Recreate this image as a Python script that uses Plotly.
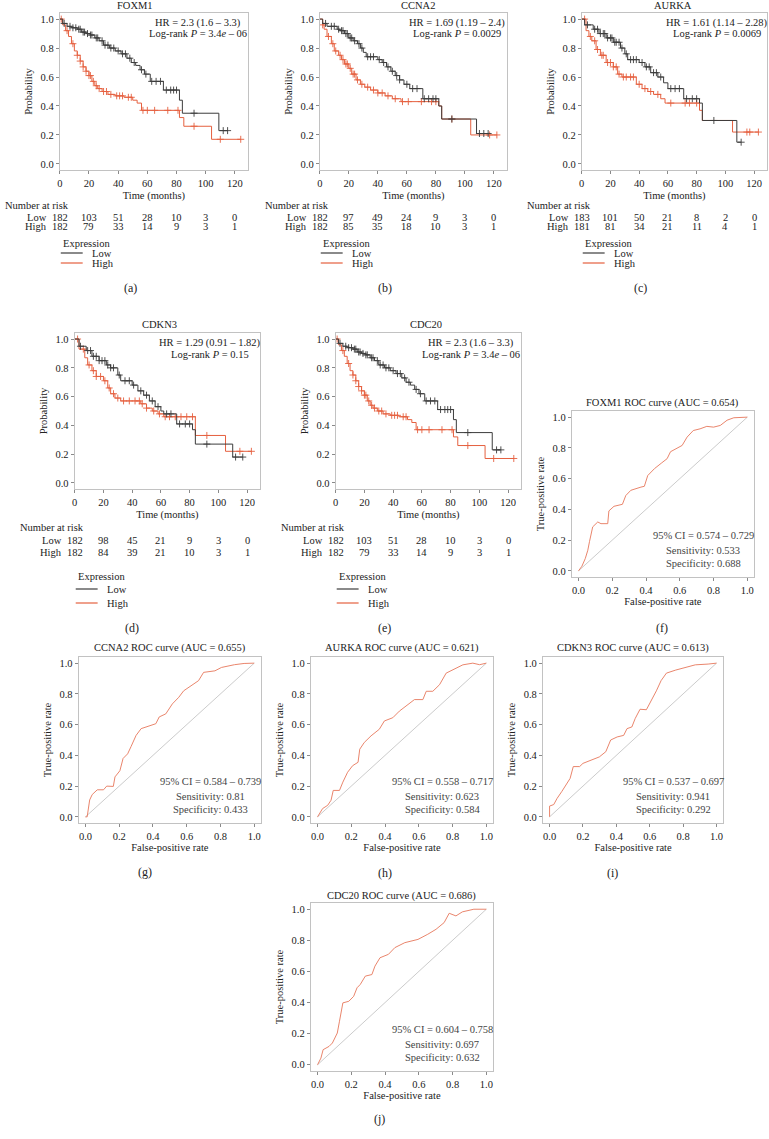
import plotly.graph_objects as go

W, H = 769, 1139
FONT = "Liberation Serif"
BLACK = "#3c3c3c"
RED = "#e5603f"
ROC_RED = "#e7775b"
FRAME = "#c2c2c2"
TXT = "#222222"
FS = 10.5

# ---------------- data: Kaplan-Meier ----------------
KM_TICKS = [0, 20, 40, 60, 80, 100, 120]

foxm1_low_t = [0, 2, 5, 8, 12, 15, 18, 21, 24, 27, 30, 34, 38, 42, 46, 49, 52, 55, 58, 62, 71, 82, 84, 109, 115]
foxm1_low_s = [1.0, 0.97, 0.95, 0.94, 0.93, 0.91, 0.90, 0.89, 0.87, 0.85, 0.82, 0.80, 0.78, 0.76, 0.73, 0.70, 0.68, 0.65, 0.62, 0.57, 0.51, 0.44, 0.35, 0.23, 0.23]
foxm1_low_c = [3, 7, 9, 11, 13, 14, 16, 17, 19, 21, 22, 25, 26, 29, 31, 33, 35, 37, 40, 43, 45, 48, 51, 56, 59, 63, 66, 69, 73, 76, 78, 80, 92, 112, 115]
foxm1_high_t = [0, 2, 4, 6, 8, 10, 12, 14, 16, 18, 20, 22, 24, 26, 29, 33, 38, 44, 50, 53, 56, 82, 85, 104, 124]
foxm1_high_s = [1.0, 0.96, 0.92, 0.88, 0.83, 0.78, 0.75, 0.71, 0.67, 0.64, 0.61, 0.57, 0.54, 0.52, 0.50, 0.48, 0.47, 0.46, 0.44, 0.42, 0.37, 0.32, 0.26, 0.17, 0.17]
foxm1_high_c = [1, 5, 9, 12, 14, 16, 18, 20, 21, 23, 25, 27, 30, 32, 35, 39, 41, 43, 47, 49, 57, 60, 65, 74, 81, 92, 110, 124]

ccna2_low_t = [0, 2, 5, 12, 14, 17, 20, 23, 26, 28, 30, 32, 40, 43, 46, 49, 52, 55, 58, 62, 71, 82, 84, 108, 116]
ccna2_low_s = [1.0, 0.97, 0.95, 0.93, 0.92, 0.90, 0.87, 0.85, 0.83, 0.80, 0.77, 0.74, 0.72, 0.70, 0.67, 0.64, 0.61, 0.58, 0.55, 0.52, 0.45, 0.40, 0.31, 0.21, 0.21]
ccna2_low_c = [4, 8, 10, 13, 15, 16, 18, 19, 21, 22, 24, 27, 29, 33, 35, 37, 41, 44, 47, 50, 53, 55, 60, 64, 67, 72, 75, 78, 80, 91, 110, 113, 116]
ccna2_high_t = [0, 2, 3, 5, 8, 10, 13, 15, 17, 20, 22, 25, 28, 31, 35, 40, 45, 50, 56, 82, 84, 104, 122]
ccna2_high_s = [1.0, 0.96, 0.93, 0.88, 0.83, 0.78, 0.75, 0.72, 0.69, 0.66, 0.62, 0.58, 0.55, 0.53, 0.51, 0.49, 0.47, 0.45, 0.43, 0.40, 0.31, 0.20, 0.20]
ccna2_high_c = [2, 6, 9, 11, 14, 16, 18, 19, 21, 23, 24, 26, 29, 33, 37, 40, 43, 47, 52, 57, 61, 70, 77, 80, 91, 117, 122]

aurka_low_t = [0, 2, 8, 12, 17, 22, 27, 30, 32, 40, 44, 48, 53, 57, 60, 71, 82, 84, 108, 111]
aurka_low_s = [1.0, 0.96, 0.93, 0.90, 0.87, 0.84, 0.80, 0.76, 0.72, 0.70, 0.67, 0.63, 0.60, 0.56, 0.52, 0.45, 0.42, 0.30, 0.15, 0.15]
aurka_low_c = [4, 9, 11, 13, 15, 16, 18, 20, 21, 23, 24, 26, 28, 31, 34, 36, 38, 42, 45, 47, 50, 52, 55, 62, 65, 68, 73, 77, 80, 92, 111]
aurka_high_t = [0, 3, 5, 7, 10, 13, 17, 22, 25, 28, 38, 42, 46, 50, 55, 58, 82, 84, 105, 123]
aurka_high_s = [1.0, 0.92, 0.88, 0.85, 0.79, 0.75, 0.70, 0.67, 0.62, 0.60, 0.55, 0.52, 0.50, 0.48, 0.45, 0.42, 0.37, 0.30, 0.22, 0.22]
aurka_high_c = [2, 6, 9, 11, 14, 15, 18, 20, 22, 24, 26, 29, 31, 34, 36, 40, 44, 48, 53, 62, 72, 75, 80, 115, 117, 123]

cdkn3_low_t = [0, 3, 8, 12, 17, 22, 25, 30, 32, 40, 44, 48, 52, 56, 60, 62, 71, 82, 84, 110, 117]
cdkn3_low_s = [1.0, 0.95, 0.92, 0.88, 0.85, 0.82, 0.80, 0.75, 0.71, 0.68, 0.64, 0.61, 0.57, 0.53, 0.50, 0.48, 0.41, 0.37, 0.27, 0.18, 0.18]
cdkn3_low_c = [4, 9, 11, 13, 15, 17, 19, 21, 23, 25, 27, 31, 35, 38, 41, 46, 50, 54, 58, 64, 67, 73, 77, 80, 92, 112, 117]
cdkn3_high_t = [0, 3, 7, 9, 12, 15, 20, 23, 25, 28, 32, 46, 50, 54, 58, 62, 84, 105, 123]
cdkn3_high_s = [1.0, 0.93, 0.87, 0.82, 0.78, 0.74, 0.71, 0.66, 0.62, 0.59, 0.57, 0.55, 0.52, 0.50, 0.48, 0.46, 0.33, 0.22, 0.22]
cdkn3_high_c = [2, 6, 10, 13, 15, 18, 21, 24, 27, 30, 34, 38, 42, 45, 47, 50, 55, 59, 63, 66, 70, 74, 78, 82, 92, 115, 123]

# CDC20 curves are identical to FOXM1 in the source figure
cdc20_low_t, cdc20_low_s, cdc20_low_c = foxm1_low_t, foxm1_low_s, foxm1_low_c
cdc20_high_t, cdc20_high_s, cdc20_high_c = foxm1_high_t, foxm1_high_s, foxm1_high_c

risk_foxm1_low = [182, 103, 51, 28, 10, 3, 0]
risk_foxm1_high = [182, 79, 33, 14, 9, 3, 1]
risk_ccna2_low = [182, 97, 49, 24, 9, 3, 0]
risk_ccna2_high = [182, 85, 35, 18, 10, 3, 1]
risk_aurka_low = [183, 101, 50, 21, 8, 2, 0]
risk_aurka_high = [181, 81, 34, 21, 11, 4, 1]
risk_cdkn3_low = [182, 98, 45, 21, 9, 3, 0]
risk_cdkn3_high = [182, 84, 39, 21, 10, 3, 1]
risk_cdc20_low = [182, 103, 51, 28, 10, 3, 0]
risk_cdc20_high = [182, 79, 33, 14, 9, 3, 1]

hr_texts = ["HR = 2.3 (1.6 – 3.3)", "HR = 1.69 (1.19 – 2.4)", "HR = 1.61 (1.14 – 2.28)",
            "HR = 1.29 (0.91 – 1.82)", "HR = 2.3 (1.6 – 3.3)"]
p_texts = ["3.4<i>e</i> – 06", "0.0029", "0.0069", "0.15", "3.4<i>e</i> – 06"]

# ---------------- data: ROC ----------------
ROC_TICKS = [0.0, 0.2, 0.4, 0.6, 0.8, 1.0]

foxm1_fpr = [0, 0.02, 0.04, 0.055, 0.065, 0.084, 0.114, 0.133, 0.173, 0.18, 0.21, 0.26, 0.28, 0.31, 0.37, 0.39, 0.41, 0.45, 0.49, 0.525, 0.545, 0.585, 0.614, 0.643, 0.68, 0.72, 0.76, 0.80, 0.84, 0.88, 0.92, 1.0]
foxm1_tpr = [0, 0.03, 0.08, 0.134, 0.19, 0.286, 0.318, 0.307, 0.307, 0.39, 0.42, 0.433, 0.49, 0.524, 0.545, 0.55, 0.62, 0.665, 0.70, 0.73, 0.775, 0.80, 0.816, 0.87, 0.913, 0.924, 0.94, 0.935, 0.946, 0.98, 0.996, 1.0]

ccna2_fpr = [0, 0.01, 0.025, 0.04, 0.07, 0.107, 0.126, 0.165, 0.175, 0.204, 0.223, 0.25, 0.27, 0.30, 0.33, 0.38, 0.417, 0.437, 0.476, 0.515, 0.553, 0.582, 0.63, 0.67, 0.70, 0.767, 0.806, 0.883, 0.94, 1.0]
ccna2_tpr = [0, 0.0, 0.11, 0.145, 0.176, 0.176, 0.20, 0.198, 0.26, 0.30, 0.38, 0.41, 0.457, 0.53, 0.574, 0.59, 0.606, 0.65, 0.67, 0.735, 0.778, 0.82, 0.854, 0.886, 0.94, 0.95, 0.972, 0.99, 0.998, 1.0]

aurka_fpr = [0, 0.03, 0.06, 0.08, 0.093, 0.13, 0.15, 0.178, 0.208, 0.24, 0.25, 0.277, 0.317, 0.366, 0.396, 0.446, 0.485, 0.535, 0.574, 0.624, 0.644, 0.683, 0.723, 0.762, 0.802, 0.861, 0.92, 0.96, 1.0]
aurka_tpr = [0, 0.054, 0.075, 0.108, 0.172, 0.172, 0.226, 0.29, 0.333, 0.355, 0.44, 0.484, 0.527, 0.57, 0.624, 0.645, 0.688, 0.731, 0.763, 0.763, 0.817, 0.817, 0.86, 0.935, 0.957, 0.989, 1.0, 0.99, 1.0]

cdkn3_fpr = [0, 0.0, 0.025, 0.045, 0.074, 0.103, 0.123, 0.142, 0.18, 0.20, 0.25, 0.298, 0.337, 0.366, 0.405, 0.444, 0.464, 0.493, 0.513, 0.542, 0.58, 0.61, 0.64, 0.668, 0.70, 0.756, 0.815, 0.873, 0.95, 1.0]
cdkn3_tpr = [0, 0.07, 0.08, 0.12, 0.166, 0.22, 0.25, 0.327, 0.327, 0.348, 0.37, 0.39, 0.424, 0.50, 0.52, 0.53, 0.574, 0.585, 0.64, 0.70, 0.697, 0.757, 0.82, 0.886, 0.935, 0.955, 0.972, 0.989, 0.994, 1.0]

cdc20_fpr = [0, 0.02, 0.033, 0.068, 0.088, 0.117, 0.13, 0.15, 0.185, 0.214, 0.234, 0.253, 0.283, 0.322, 0.34, 0.37, 0.42, 0.458, 0.517, 0.595, 0.653, 0.702, 0.75, 0.78, 0.82, 0.858, 0.926, 0.985, 1.0]
cdc20_tpr = [0, 0.043, 0.097, 0.118, 0.14, 0.204, 0.28, 0.398, 0.408, 0.44, 0.495, 0.516, 0.57, 0.58, 0.634, 0.688, 0.71, 0.753, 0.785, 0.806, 0.839, 0.871, 0.914, 0.974, 0.957, 0.983, 1.0, 1.0, 1.0]

roc_names = ["FOXM1", "CCNA2", "AURKA", "CDKN3", "CDC20"]
roc_auc = ["0.654", "0.655", "0.621", "0.613", "0.686"]
roc_ci = ["0.574 – 0.729", "0.584 – 0.739", "0.558 – 0.717", "0.537 – 0.697", "0.604 – 0.758"]
roc_sens = ["0.533", "0.81", "0.623", "0.941", "0.697"]
roc_spec = ["0.688", "0.433", "0.584", "0.292", "0.632"]

# ---------------- layout geometry (pixels) ----------------
fig = go.Figure()
annotations = []
shapes = []
axes = {}


def py(y):
    return 1 - y / H


def text(t, x, y, size=FS, xanchor="center", xref="paper", angle=0):
    annotations.append(dict(
        text=t, x=(x / W if xref == "paper" else x), y=py(y), xref=xref, yref="paper",
        xanchor=xanchor, yanchor="middle", showarrow=False, textangle=angle,
        font=dict(family=FONT, size=size, color=TXT)))


def step_val(ts, ss, t):
    v = ss[0]
    for ti, si in zip(ts, ss):
        if ti <= t:
            v = si
    return v


def axis_common():
    return dict(showline=True, mirror=True, linecolor=FRAME, linewidth=1,
                ticks="outside", ticklen=3, tickcolor="#8a8a8a", tickwidth=1,
                showgrid=False, zeroline=False,
                tickfont=dict(family=FONT, size=FS, color=TXT))


km_panels = [
    dict(name="FOXM1", frame=(57, 246, 13, 170), curves=(foxm1_low_t, foxm1_low_s, foxm1_low_c, foxm1_high_t, foxm1_high_s, foxm1_high_c),
         risk=(risk_foxm1_low, risk_foxm1_high), title_x=133, label="(a)", lab=(128, 288), row=1),
    dict(name="CCNA2", frame=(318, 506, 13, 170), curves=(ccna2_low_t, ccna2_low_s, ccna2_low_c, ccna2_high_t, ccna2_high_s, ccna2_high_c),
         risk=(risk_ccna2_low, risk_ccna2_high), title_x=417, label="(b)", lab=(383, 288), row=1),
    dict(name="AURKA", frame=(581, 767, 13, 170), curves=(aurka_low_t, aurka_low_s, aurka_low_c, aurka_high_t, aurka_high_s, aurka_high_c),
         risk=(risk_aurka_low, risk_aurka_high), title_x=673, label="(c)", lab=(640, 288), row=1),
    dict(name="CDKN3", frame=(72, 258, 333, 489), curves=(cdkn3_low_t, cdkn3_low_s, cdkn3_low_c, cdkn3_high_t, cdkn3_high_s, cdkn3_high_c),
         risk=(risk_cdkn3_low, risk_cdkn3_high), title_x=157, label="(d)", lab=(130, 628), row=2),
    dict(name="CDC20", frame=(334, 520, 333, 489), curves=(cdc20_low_t, cdc20_low_s, cdc20_low_c, cdc20_high_t, cdc20_high_s, cdc20_high_c),
         risk=(risk_cdc20_low, risk_cdc20_high), title_x=425, label="(e)", lab=(383, 628), row=2),
]

row_y = {
    1: dict(title=5, hr=23, p=34, nar=205, low=217, high=227, expr=243, lg_low=253, lg_high=263),
    2: dict(title=324, hr=343, p=355, nar=527, low=540, high=553, expr=576, lg_low=589, lg_high=603),
}

idx = 0
for i, pnl in enumerate(km_panels):
    idx += 1
    sfx = "" if idx == 1 else str(idx)
    l, r, t, b = pnl["frame"]
    ry = row_y[pnl["row"]]
    xa = axis_common()
    xa.update(domain=[l / W, r / W], range=[0, 129], tickvals=KM_TICKS, anchor="y" + sfx,
              title=dict(text="Time (months)", font=dict(family=FONT, size=FS, color=TXT), standoff=4))
    ya = axis_common()
    ya.update(domain=[py(b), py(t)], range=[-0.042, 1.042], tickvals=[0, 0.2, 0.4, 0.6, 0.8, 1.0],
              tickformat=".1f", anchor="x" + sfx,
              title=dict(text="Probability", font=dict(family=FONT, size=FS, color=TXT), standoff=5))
    axes["xaxis" + sfx] = xa
    axes["yaxis" + sfx] = ya

    lt, ls, lc, ht, hs, hc = pnl["curves"]
    for ts, ss, cs, col in [(ht, hs, hc, RED), (lt, ls, lc, BLACK)]:
        fig.add_trace(go.Scatter(x=ts, y=ss, mode="lines", line=dict(color=col, width=1, shape="hv"),
                                 xaxis="x" + sfx, yaxis="y" + sfx, showlegend=False, hoverinfo="skip"))
        fig.add_trace(go.Scatter(x=cs, y=[step_val(ts, ss, c) for c in cs], mode="markers",
                                 marker=dict(symbol="cross-thin", size=5, line=dict(color=col, width=0.9)),
                                 xaxis="x" + sfx, yaxis="y" + sfx, showlegend=False, hoverinfo="skip"))

    text(pnl["name"], pnl["title_x"], ry["title"])
    text(hr_texts[i], r - 50, ry["hr"])
    text("Log-rank <i>P</i> = " + p_texts[i], r - 50, ry["p"])
    # number at risk table
    text("Number at risk", l - 57, ry["nar"], xanchor="left")
    text("Low", l - 11, ry["low"], xanchor="right")
    text("High", l - 11, ry["high"], xanchor="right")
    for tk, nl, nh in zip(KM_TICKS, pnl["risk"][0], pnl["risk"][1]):
        text(str(nl), tk, ry["low"], xref="x" + sfx)
        text(str(nh), tk, ry["high"], xref="x" + sfx)
    # legend
    text("Expression", l + 1, ry["expr"], xanchor="left")
    for key, lab, col in [("lg_low", "Low", BLACK), ("lg_high", "High", RED)]:
        shapes.append(dict(type="line", xref="paper", yref="paper", x0=(l + 1) / W, x1=(l + 23) / W,
                           y0=py(ry[key]), y1=py(ry[key]), line=dict(color=col, width=1.2)))
        text(lab, l + 30, ry[key], xanchor="left")
    text(pnl["label"], pnl["lab"][0], pnl["lab"][1], size=12)

roc_panels = [
    dict(frame=(571, 754, 411, 577), data=(foxm1_fpr, foxm1_tpr), title_y=403, label="(f)", lab=(662, 628)),
    dict(frame=(76, 259, 657, 823), data=(ccna2_fpr, ccna2_tpr), title_y=648, label="(g)", lab=(143, 872)),
    dict(frame=(309, 492, 657, 823), data=(aurka_fpr, aurka_tpr), title_y=648, label="(h)", lab=(383, 873)),
    dict(frame=(542, 723, 657, 823), data=(cdkn3_fpr, cdkn3_tpr), title_y=648, label="(i)", lab=(612, 873)),
    dict(frame=(309, 492, 903, 1071), data=(cdc20_fpr, cdc20_tpr), title_y=896, label="(j)", lab=(378, 1119)),
]

for i, pnl in enumerate(roc_panels):
    idx += 1
    sfx = str(idx)
    l, r, t, b = pnl["frame"]
    xa = axis_common()
    xa.update(domain=[l / W, r / W], range=[-0.04, 1.04], tickvals=ROC_TICKS, tickformat=".1f",
              anchor="y" + sfx,
              title=dict(text="False-positive rate", font=dict(family=FONT, size=FS, color=TXT), standoff=3))
    ya = axis_common()
    ya.update(domain=[py(b), py(t)], range=[-0.04, 1.04], tickvals=ROC_TICKS, tickformat=".1f",
              anchor="x" + sfx,
              title=dict(text="True-positive rate", font=dict(family=FONT, size=FS, color=TXT), standoff=5))
    axes["xaxis" + sfx] = xa
    axes["yaxis" + sfx] = ya
    fig.add_trace(go.Scatter(x=[0, 1], y=[0, 1], mode="lines", line=dict(color="#b5b5b5", width=0.7),
                             xaxis="x" + sfx, yaxis="y" + sfx, showlegend=False, hoverinfo="skip"))
    fpr, tpr = pnl["data"]
    fig.add_trace(go.Scatter(x=fpr, y=tpr, mode="lines", line=dict(color=ROC_RED, width=0.9),
                             xaxis="x" + sfx, yaxis="y" + sfx, showlegend=False, hoverinfo="skip"))
    text(f"{roc_names[i]} ROC curve (AUC = {roc_auc[i]})", (l + r) / 2, pnl["title_y"])
    for yv, s in [(0.229, f"95% CI = {roc_ci[i]}"), (0.13, f"Sensitivity: {roc_sens[i]}"),
                  (0.045, f"Specificity: {roc_spec[i]}")]:
        annotations.append(dict(text=s, x=0.74, y=yv, xref="x" + sfx, yref="y" + sfx,
                                xanchor="center", yanchor="middle", showarrow=False,
                                font=dict(family=FONT, size=FS, color="#444")))
    text(pnl["label"], pnl["lab"][0], pnl["lab"][1], size=12)

fig.update_layout(
    width=W, height=H, margin=dict(l=0, r=0, t=0, b=0),
    paper_bgcolor="white", plot_bgcolor="white",
    font=dict(family=FONT, size=FS, color=TXT),
    showlegend=False, hovermode=False, annotations=annotations, shapes=shapes, **axes)

fig.write_html("out.html", config={"displayModeBar": False},
               post_script="document.body.style.margin='0';document.body.style.padding='0';")
